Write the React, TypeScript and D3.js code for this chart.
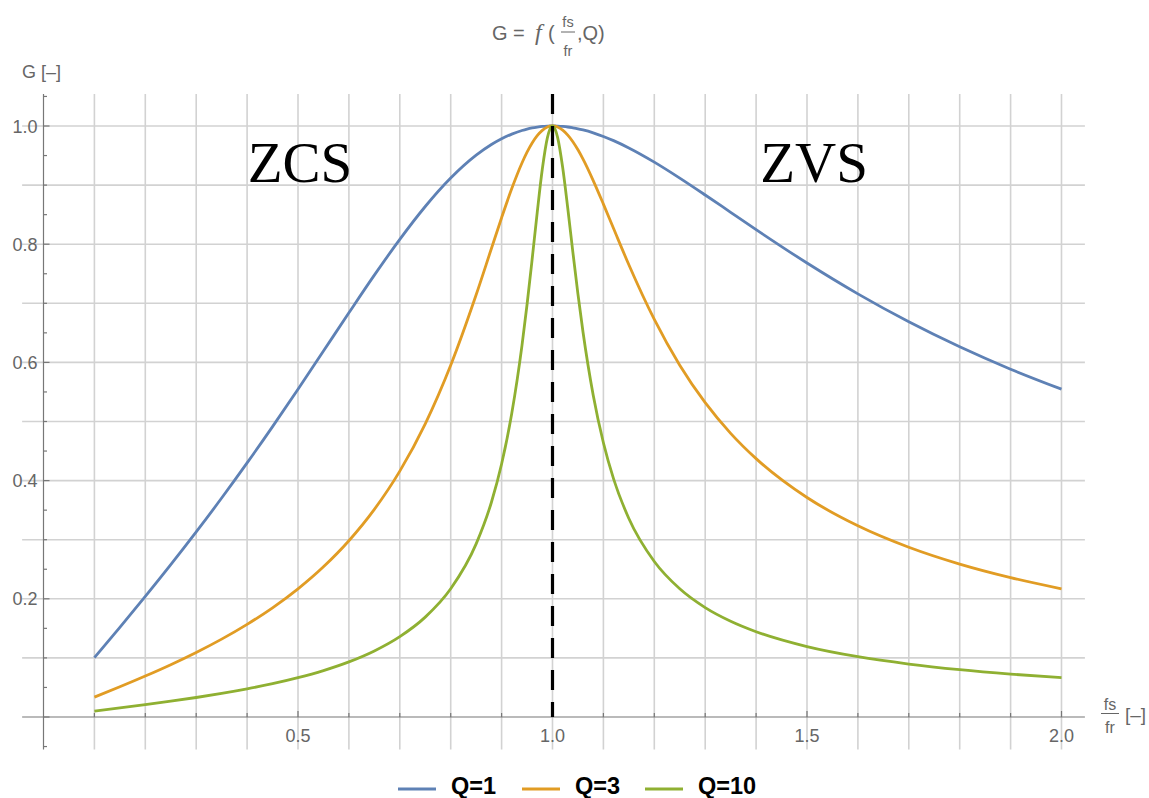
import React from "react";
import * as d3 from "d3";

// Normalised switching frequency fs/fr
const xs = [
  0.1, 0.15, 0.2, 0.25, 0.3, 0.35, 0.4, 0.45, 0.5, 0.55, 0.6, 0.65, 0.7, 0.75,
  0.8, 0.85, 0.88, 0.9, 0.92, 0.94, 0.95, 0.96, 0.97, 0.98, 0.99, 0.995, 1.0,
  1.005, 1.01, 1.02, 1.03, 1.04, 1.05, 1.06, 1.08, 1.1, 1.12, 1.15, 1.2, 1.25,
  1.3, 1.35, 1.4, 1.5, 1.6, 1.7, 1.8, 1.9, 2.0,
];

// Gain G for each quality factor
const gainQ1 = [
  0.1005, 0.1517, 0.204, 0.2577, 0.3131, 0.3705, 0.4299, 0.4914, 0.5547,
  0.6192, 0.6839, 0.7476, 0.8082, 0.8638, 0.9119, 0.9506, 0.9687, 0.9784,
  0.9863, 0.9924, 0.9948, 0.9967, 0.9981, 0.9992, 0.9998, 1.0, 1.0, 1.0,
  0.9998, 0.9992, 0.9983, 0.9969, 0.9953, 0.9933, 0.9884, 0.9823, 0.9752,
  0.9629, 0.9389, 0.9119, 0.8833, 0.854, 0.8247, 0.7682, 0.716, 0.6687,
  0.6264, 0.5885, 0.5547,
];
const gainQ3 = [
  0.0337, 0.0511, 0.0693, 0.0885, 0.1092, 0.1318, 0.1568, 0.1848, 0.2169,
  0.2542, 0.2983, 0.3513, 0.416, 0.4961, 0.5952, 0.7144, 0.7927, 0.8448,
  0.8941, 0.9374, 0.9557, 0.9713, 0.9837, 0.9927, 0.9982, 0.9996, 1.0, 0.9996,
  0.9982, 0.993, 0.9846, 0.9734, 0.9597, 0.9439, 0.9077, 0.8678, 0.8265,
  0.7652, 0.6727, 0.5952, 0.5318, 0.48, 0.4372, 0.3714, 0.3235, 0.2872,
  0.2587, 0.2358, 0.2169,
];
const gainQ10 = [
  0.0101, 0.0153, 0.0208, 0.0267, 0.033, 0.0399, 0.0476, 0.0563, 0.0665,
  0.0786, 0.0933, 0.1118, 0.136, 0.169, 0.2169, 0.2929, 0.3634, 0.4281,
  0.5138, 0.6283, 0.6979, 0.7745, 0.854, 0.9272, 0.9804, 0.995, 1.0, 0.995,
  0.9808, 0.9297, 0.8608, 0.7867, 0.7156, 0.651, 0.5444, 0.464, 0.4029,
  0.3359, 0.2631, 0.2169, 0.1851, 0.162, 0.1443, 0.1191, 0.102, 0.0896,
  0.0801, 0.0726, 0.0665,
];

const seriesNames = ["Q=1", "Q=3", "Q=10"];
const seriesColors = ["#5E81B5", "#E19C24", "#8FB032"];
const seriesValues = [gainQ1, gainQ3, gainQ10];

const xTickLabels = [0.5, 1.0, 1.5, 2.0];
const yTickLabels = [0.2, 0.4, 0.6, 0.8, 1.0];
const resonance = 1.0;

const W = 1149;
const H = 798;

const x = d3.scaleLinear().domain([0, 2]).range([43.5, 1061.5]);
const y = d3.scaleLinear().domain([0, 1]).range([717, 126]);

const xLo = -0.042;
const xHi = 2.046;
const yLo = -0.055;
const yHi = 1.054;

const gridX = d3.range(1, 21).map((i) => i / 10);
const gridY = d3.range(1, 11).map((i) => i / 10);
const xMinorTicks = d3.range(1, 21).map((i) => i / 10);
const yMinorTicks = d3.range(-1, 22).map((i) => i / 20);

const axisColor = "#777";
const labelColor = "#666";
const gridColor = "#d2d2d2";
const sans = "'Liberation Sans', Arial, sans-serif";

export default function App() {
  const line = d3
    .line<number>()
    .x((_, i) => x(xs[i]))
    .y((d) => y(d))
    .curve(d3.curveMonotoneX);

  const fmt = d3.format(".1f");

  return (
    <svg
      width={W}
      height={H}
      style={{ position: "absolute", left: 0, top: 0, background: "#fff" }}
      fontFamily={sans}
    >
      {/* grid */}
      <g stroke={gridColor} strokeWidth={1.6}>
        {gridX.map((v) => (
          <line key={"gx" + v} x1={x(v)} x2={x(v)} y1={y(yHi)} y2={y(yLo)} />
        ))}
        {gridY.map((v) => (
          <line key={"gy" + v} x1={x(xLo)} x2={x(xHi)} y1={y(v)} y2={y(v)} />
        ))}
      </g>

      {/* axes */}
      <g stroke={axisColor} strokeWidth={1.2}>
        <line x1={x(xLo)} x2={x(xHi)} y1={y(0)} y2={y(0)} />
        <line x1={x(0)} x2={x(0)} y1={y(yHi)} y2={y(yLo)} />
        {xMinorTicks.map((v) => {
          const major = xTickLabels.some((t) => Math.abs(t - v) < 1e-9);
          return (
            <line
              key={"xt" + v}
              x1={x(v)}
              x2={x(v)}
              y1={y(0)}
              y2={y(0) - (major ? 6 : 4)}
            />
          );
        })}
        {yMinorTicks.map((v) => {
          const major = Math.abs(v) < 1e-9 || yTickLabels.some((t) => Math.abs(t - v) < 1e-9);
          return (
            <line
              key={"yt" + v}
              x1={x(0)}
              x2={x(0) + (major ? 6 : 3.5)}
              y1={y(v)}
              y2={y(v)}
            />
          );
        })}
      </g>

      {/* tick labels */}
      <g fill={labelColor} fontSize={18}>
        {xTickLabels.map((v) => (
          <text key={"xl" + v} x={x(v)} y={741.5} textAnchor="middle">
            {fmt(v)}
          </text>
        ))}
        {yTickLabels.map((v) => (
          <text key={"yl" + v} x={37.5} y={y(v) + 6.5} textAnchor="end">
            {fmt(v)}
          </text>
        ))}
      </g>

      {/* curves */}
      {seriesValues.map((vals, i) => (
        <path
          key={seriesNames[i]}
          d={line(vals) || ""}
          fill="none"
          stroke={seriesColors[i]}
          strokeWidth={2.8}
          strokeLinejoin="round"
        />
      ))}

      {/* resonance marker */}
      <line
        x1={x(resonance)}
        x2={x(resonance)}
        y1={y(yHi)}
        y2={y(0)}
        stroke="#000"
        strokeWidth={3.2}
        strokeDasharray="20,12"
      />

      {/* region annotations */}
      <g fontFamily="'Liberation Serif', 'Times New Roman', serif" fontSize={57} fill="#000">
        <text x={300} y={182} textAnchor="middle">ZCS</text>
        <text x={814} y={182} textAnchor="middle">ZVS</text>
      </g>

      {/* title */}
      <g fill={labelColor}>
        <text x={492} y={40} fontSize={20}>G =</text>
        <text
          x={535}
          y={40}
          fontSize={24}
          fontStyle="italic"
          fontFamily="'Liberation Serif', serif"
        >
          f
        </text>
        <text x={548} y={40} fontSize={20}>(</text>
        <text x={568} y={27} fontSize={14.5} textAnchor="middle">fs</text>
        <line x1={561} x2={575} y1={32} y2={32} stroke={labelColor} strokeWidth={1} />
        <text x={568} y={56} fontSize={14.5} textAnchor="middle">fr</text>
        <text x={577} y={40} fontSize={20}>,Q)</text>
      </g>

      {/* axis labels */}
      <g fill={labelColor}>
        <text x={22} y={78} fontSize={18}>G [–]</text>
        <text x={1110} y={710} fontSize={16} textAnchor="middle">fs</text>
        <line x1={1101} x2={1119} y1={713.5} y2={713.5} stroke={labelColor} strokeWidth={1} />
        <text x={1110} y={733} fontSize={16} textAnchor="middle">fr</text>
        <text x={1125} y={721} fontSize={19}>[–]</text>
      </g>

      {/* legend */}
      <g>
        {seriesNames.map((name, i) => {
          const sx = [398, 522, 645][i];
          return (
            <g key={"lg" + name}>
              <line
                x1={sx}
                x2={sx + 38}
                y1={789}
                y2={789}
                stroke={seriesColors[i]}
                strokeWidth={3}
              />
              <text x={sx + 53} y={794} fontSize={23.5} fontWeight="bold" fill="#000">
                {name}
              </text>
            </g>
          );
        })}
      </g>
    </svg>
  );
}
